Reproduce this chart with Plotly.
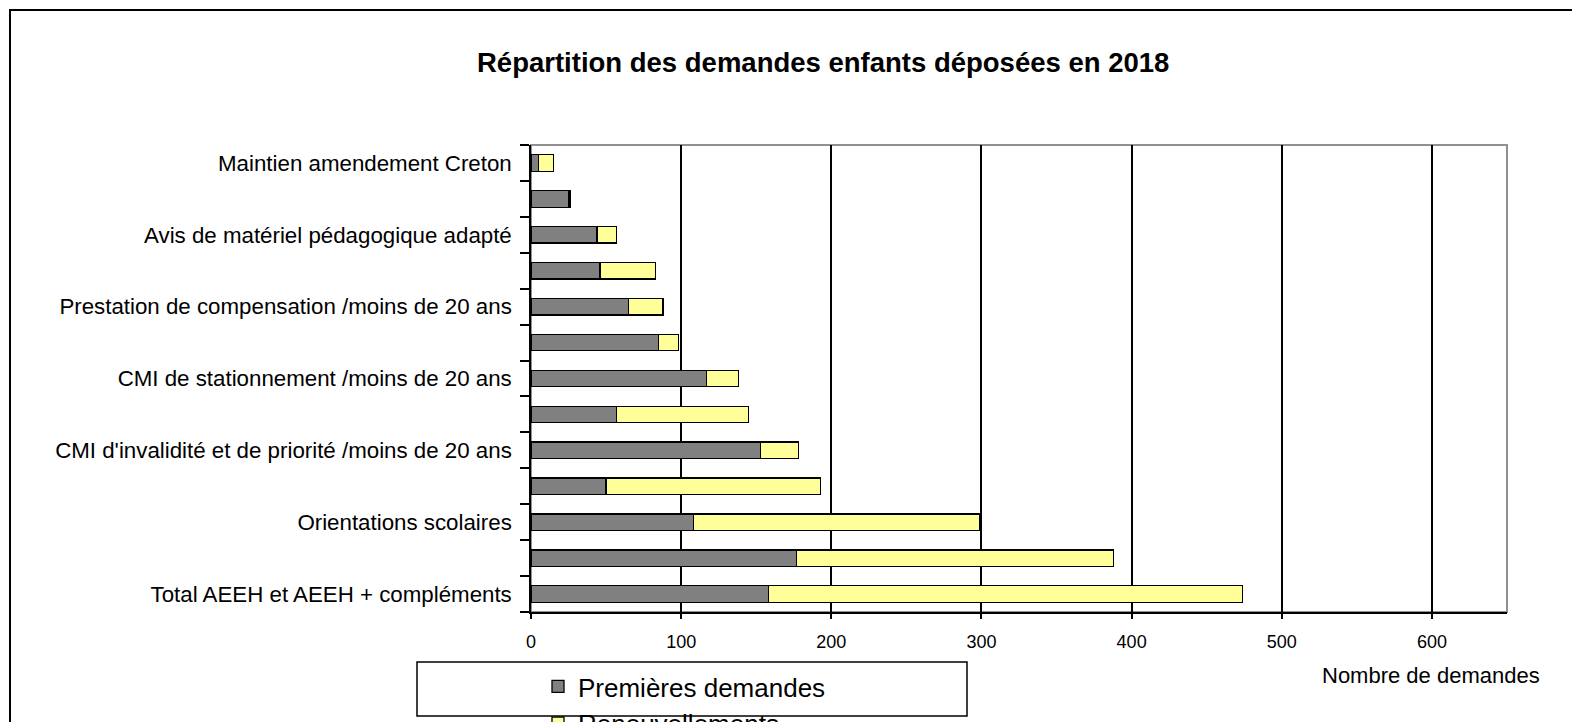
import plotly.graph_objects as go

# ---- data (top to bottom as displayed) ----
categories = [
    "Maintien amendement Creton",
    "",
    "Avis de matériel pédagogique adapté",
    "",
    "Prestation de compensation /moins de 20 ans",
    "",
    "CMI de stationnement /moins de 20 ans",
    "",
    "CMI d'invalidité et de priorité /moins de 20 ans",
    "",
    "Orientations scolaires",
    "",
    "Total AEEH et AEEH + compléments",
]
premieres = [5, 25, 44, 46, 65, 85, 117, 57, 153, 50, 108, 177, 158]
renouvellements = [10, 1, 13, 37, 23, 13, 21, 88, 25, 143, 191, 211, 316]
x_ticks = [0, 100, 200, 300, 400, 500, 600]

title_text = "Répartition des demandes enfants déposées en 2018"
x_title = "Nombre de demandes"
series_names = ["Premières demandes", "Renouvellements"]

# ---- layout geometry ----
W, H = 1572, 722
L, R, T, B = 531, 1507, 145, 612


def px(x):
    return (x - L) / (R - L)


def py(y):
    return (B - y) / (B - T)


FONT = "Liberation Sans, Arial, sans-serif"
pos = list(range(len(categories)))

fig = go.Figure()
fig.add_trace(go.Bar(
    y=pos, x=premieres, orientation="h", name=series_names[0],
    marker=dict(color="#808080", line=dict(color="black", width=1.3)),
    width=0.46,
))
fig.add_trace(go.Bar(
    y=pos, x=renouvellements, orientation="h", name=series_names[1],
    marker=dict(color="#FFFF99", line=dict(color="black", width=1.3)),
    width=0.46,
))

fig.update_layout(
    barmode="stack",
    width=W, height=H,
    margin=dict(l=L, r=W - R, t=T, b=H - B, autoexpand=False),
    paper_bgcolor="white", plot_bgcolor="white",
    font=dict(family=FONT, color="black", size=18),
    showlegend=True,
    legend=dict(
        x=px(538), y=py(663), xanchor="left", yanchor="top",
        font=dict(size=26, family=FONT, color="black"),
        bgcolor="rgba(0,0,0,0)", borderwidth=0,
        traceorder="normal", tracegroupgap=0,
    ),
    xaxis=dict(
        range=[0, 650], tickvals=x_ticks, ticktext=[str(v) for v in x_ticks],
        showgrid=True, gridcolor="black", gridwidth=1.5,
        zeroline=False, showline=True, linecolor="black", linewidth=1.5,
        ticks="outside", ticklen=5, tickcolor="black", tickwidth=1.5,
        tickfont=dict(size=18), ticklabelstandoff=8,
        fixedrange=True,
    ),
    yaxis=dict(
        range=[len(categories) - 0.5, -0.5],
        tickvals=pos, ticktext=categories,
        showgrid=False, zeroline=False,
        showline=True, linecolor="black", linewidth=1.5,
        ticks="", tickfont=dict(size=22.3),
        ticklabelstandoff=13,
        minor=dict(tickmode="linear", tick0=-0.5, dtick=1, ticks="outside",
                   ticklen=9, tickcolor="black", tickwidth=1.5, showgrid=False),
        fixedrange=True,
    ),
)

shapes = [
    # plot-area border (gray top/right)
    dict(type="rect", xref="paper", yref="paper", x0=0, x1=1, y0=0, y1=1,
         line=dict(color="#909090", width=2), layer="below"),
    # outer chart frame
    dict(type="rect", xref="paper", yref="paper",
         x0=px(10), x1=px(1610), y0=py(760), y1=py(10),
         line=dict(color="black", width=2), fillcolor="rgba(0,0,0,0)", layer="below"),
    # legend box
    dict(type="rect", xref="paper", yref="paper",
         x0=px(417), x1=px(967), y0=py(716), y1=py(662),
         line=dict(color="black", width=1.5), fillcolor="white", layer="below"),
]
fig.update_layout(shapes=shapes)

fig.add_annotation(
    text="<b>" + title_text + "</b>", xref="paper", yref="paper",
    x=px(823), y=py(62), xanchor="center", yanchor="middle",
    showarrow=False, font=dict(size=27.5, family=FONT, color="black"),
)
fig.add_annotation(
    text=x_title, xref="paper", yref="paper",
    x=px(1431), y=py(675), xanchor="center", yanchor="middle",
    showarrow=False, font=dict(size=22, family=FONT, color="black"),
)

fig.write_html(
    "out.html",
    config={"displayModeBar": False},
    post_script="document.body.style.margin='0px'; document.body.style.overflow='hidden';",
)
